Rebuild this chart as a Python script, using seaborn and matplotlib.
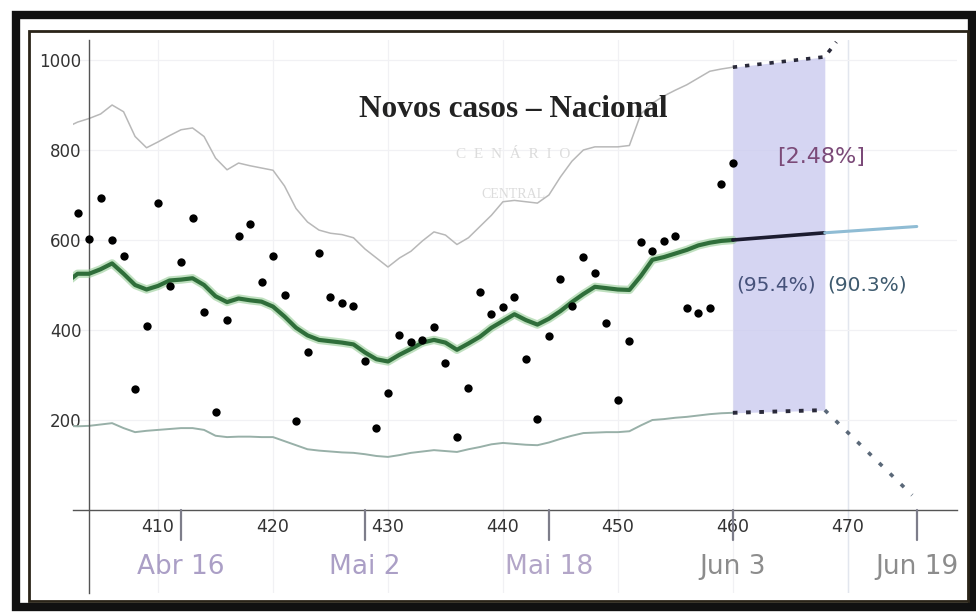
import numpy as np
import pandas as pd
import matplotlib
matplotlib.use("Agg")
import matplotlib.pyplot as plt
from matplotlib.ticker import FixedLocator, MultipleLocator
from matplotlib.patches import Rectangle
import seaborn as sns

# ---- data -------------------------------------------------------------
days = list(range(403, 461))
new_cases = [660, 602, 693, 600, 565, 269, 409, 682, 498, 551,
             649, 440, 218, 422, 609, 636, 507, 565, 478, 198,
             351, 571, 473, 460, 453, 331, 182, 260, 389, 373,
             378, 407, 327, 162, 271, 485, 436, 451, 473, 336,
             202, 386, 513, 453, 562, 526, 415, 244, 375, 595,
             575, 598, 609, 449, 438, 449, 724, 771]

trend_days = list(range(402, 461))
trend = [505, 525, 525, 535, 548, 525, 500, 490, 498, 510,
         512, 515, 500, 475, 462, 470, 466, 463, 452, 430,
         405, 388, 378, 375, 372, 368, 350, 335, 330, 345,
         358, 372, 378, 372, 356, 370, 385, 405, 420, 435,
         422, 412, 425, 442, 462, 480, 496, 493, 490, 489,
         520, 556, 562, 570, 578, 588, 594, 598, 600]
upper = [850, 862, 870, 880, 900, 885, 830, 805, 818, 832,
         845, 849, 830, 782, 756, 771, 765, 760, 755, 720,
         670, 640, 622, 615, 612, 605, 580, 560, 540, 560,
         575, 598, 618, 611, 590, 605, 630, 655, 685, 688,
         685, 682, 700, 740, 775, 800, 807, 807, 807, 810,
         880, 904, 920, 933, 945, 960, 975, 980, 984]
lower = [187, 186, 187, 190, 193, 182, 173, 176, 178, 180,
         182, 182, 178, 165, 162, 163, 163, 162, 162, 153,
         144, 135, 132, 130, 128, 127, 124, 120, 118, 122,
         127, 130, 133, 131, 129, 135, 140, 146, 149, 147,
         145, 144, 150, 158, 165, 171, 172, 173, 173, 175,
         188, 200, 202, 205, 207, 210, 213, 215, 216]

# projection beyond the last observed day
proj_days = [460, 468]
proj_trend = [600, 616]
ext_days = [468, 476]
ext_trend = [616, 630]
proj_upper_days = [460, 468, 469]
proj_upper = [984, 1007, 1040]
proj_lower_days = [460, 468, 475.6]
proj_lower = [216, 222, 33]

date_ticks = [412, 428, 444, 460, 476]
date_labels = ["Abr 16", "Mai 2", "Mai 18", "Jun 3", "Jun 19"]
date_colors = ["#ab9fc6", "#ab9fc6", "#b3a6c8", "#8c8c8c", "#8c8c8c"]

obs = pd.DataFrame({"dia": days, "casos": new_cases})
band = pd.DataFrame({"dia": trend_days, "media": trend,
                     "sup": upper, "inf": lower})

# ---- figure -----------------------------------------------------------
sns.set_theme(style="white")
plt.rcParams["font.family"] = ["DejaVu Sans"]

W, H = 976, 612
fig = plt.figure(figsize=(W / 100, H / 100), dpi=100)
fig.patch.set_facecolor("white")

x0, x1 = 402.6, 479.5
y0, y1 = -185, 1045
px_l, px_r = 73, 957
py_t, py_b = 39.75, 593.25
ax = fig.add_axes([px_l / W, 1 - py_b / H, (px_r - px_l) / W, (py_b - py_t) / H])
ax.set_facecolor("white")
ax.set_xlim(x0, x1)
ax.set_ylim(y0, y1)

# faint grid
for gx in range(410, 480, 10):
    ax.axvline(gx, color="#f1f1f4", lw=0.9, zorder=0)
ax.axvline(470, color="#e2e6ee", lw=1.0, zorder=0)
for gy in range(200, 1001, 200):
    ax.axhline(gy, color="#f1f1f4", lw=0.9, zorder=0)

# forecast window shading
ax.fill_between([460, 468], [216, 222], [984, 1007],
                color="#cbcbef", alpha=0.8, lw=0, zorder=1)

# band limits
sns.lineplot(data=band, x="dia", y="sup", ax=ax, color="#b8b8b8",
             lw=1.1, zorder=2)
sns.lineplot(data=band, x="dia", y="inf", ax=ax, color="#98b0a8",
             lw=1.4, zorder=2)

# trend line with soft halo
sns.lineplot(data=band, x="dia", y="media", ax=ax, color="#8cc88c",
             lw=6, alpha=0.55, zorder=3)
sns.lineplot(data=band, x="dia", y="media", ax=ax, color="#2f6e3a",
             lw=3, zorder=4)

# projection
ax.plot(proj_days, proj_trend, color="#1c1c30", lw=2.6, zorder=4,
        solid_capstyle="round")
ax.plot(ext_days, ext_trend, color="#8fbcd4", lw=2.2, zorder=4,
        solid_capstyle="round")
ax.plot(proj_upper_days, proj_upper, color="#2a2a3a", lw=2.6,
        ls=(0, (1.2, 2.2)), zorder=4)
ax.plot(proj_lower_days[:2], proj_lower[:2], color="#2a2a3a", lw=2.8,
        ls=(0, (1.2, 2.2)), zorder=4)
ax.plot(proj_lower_days[1:], proj_lower[1:], color="#5a6878", lw=2.6,
        ls=(0, (1.2, 3.0)), zorder=4)

# observed daily cases
sns.scatterplot(data=obs, x="dia", y="casos", ax=ax, color="black",
                s=36, edgecolor="black", linewidth=0, zorder=5)

# axes through the origin
for side in ("top", "right"):
    ax.spines[side].set_visible(False)
ax.spines["left"].set_position(("data", 404))
ax.spines["bottom"].set_position(("data", 0))
for side in ("left", "bottom"):
    ax.spines[side].set_color("#555555")
    ax.spines[side].set_linewidth(1.0)

ax.xaxis.set_major_locator(FixedLocator(list(range(410, 471, 10))))
ax.xaxis.set_minor_locator(MultipleLocator(2))
ax.yaxis.set_major_locator(FixedLocator([200, 400, 600, 800, 1000]))
ax.yaxis.set_minor_locator(MultipleLocator(50))
ax.tick_params(axis="both", which="major", direction="inout", length=7,
               width=1.0, color="#555555", labelcolor="#333333")
ax.tick_params(axis="both", which="minor", direction="inout", length=4,
               width=0.9, color="#666666")
ax.tick_params(axis="x", which="major", pad=2, labelsize=12.5)
ax.tick_params(axis="y", which="major", pad=2, labelsize=12)
ax.set_xlabel("")
ax.set_ylabel("")

# calendar ticks under the axis
for d, lab, c in zip(date_ticks, date_labels, date_colors):
    ax.plot([d, d], [0, -67], color="#7d7d8a", lw=1.6, zorder=5,
            clip_on=False)
    ax.text(d, -127, lab, ha="center", va="center", fontsize=19,
            color=c, family=["DejaVu Sans"])

# annotations
ax.text(440.9, 889, "Novos casos \u2013 Nacional", ha="center", va="center",
        fontsize=22.5, fontweight="bold", color="#222222",
        family=["Liberation Serif", "DejaVu Serif"], zorder=6)
ax.text(440.9, 789, "C  E  N  Á  R  I  O", ha="center", va="center",
        fontsize=11, color="#dcdcdc",
        family=["Liberation Serif", "DejaVu Serif"], zorder=1)
ax.text(440.9, 700, "CENTRAL", ha="center", va="center",
        fontsize=10, color="#dcdcdc",
        family=["Liberation Serif", "DejaVu Serif"], zorder=1)
ax.text(467.7, 784, "[2.48%]", ha="center", va="center", fontsize=16,
        color="#7b4a78", family=["DejaVu Sans"], zorder=6)
ax.text(463.8, 500, "(95.4%)", ha="center", va="center", fontsize=14.5,
        color="#46527a", family=["DejaVu Sans"], zorder=6)
ax.text(471.7, 500, "(90.3%)", ha="center", va="center", fontsize=14.5,
        color="#3e5a6e", family=["DejaVu Sans"], zorder=6)

# picture frame
fig.add_artist(Rectangle((16 / W, 1 - 607 / H), (972 - 16) / W, (607 - 15) / H,
                         transform=fig.transFigure, fill=False,
                         edgecolor="#111111", lw=6))
fig.add_artist(Rectangle((29 / W, 1 - 601 / H), (968 - 29) / W, (601 - 31) / H,
                         transform=fig.transFigure, fill=False,
                         edgecolor="#2a2418", lw=2))

fig.savefig("out.png", dpi=100, facecolor="white")
